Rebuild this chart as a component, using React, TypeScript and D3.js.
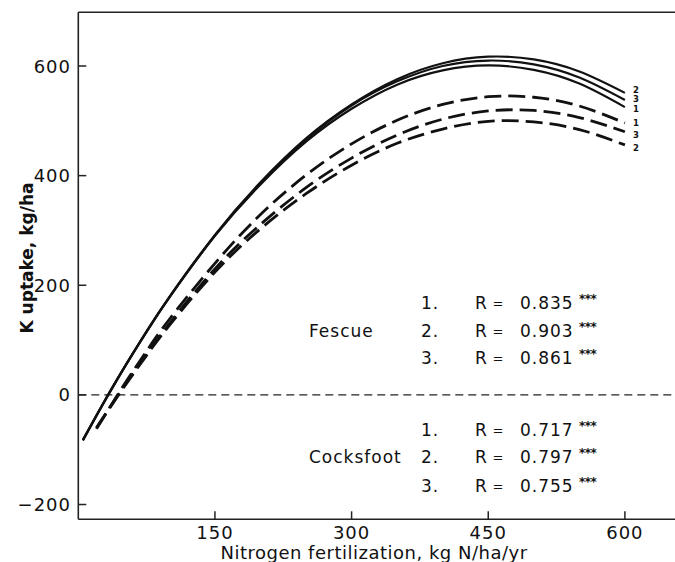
import React from "react";
import * as d3 from "d3";

// Nitrogen rates (kg N/ha/yr) at which each fitted curve is sampled
const fescueN = [5, 25, 50, 75, 100, 150, 200, 250, 300, 350, 400, 450, 500, 550, 600];
const cocksfootN = [20, 50, 75, 100, 150, 200, 250, 300, 350, 400, 450, 500, 550, 600];

// K uptake (kg/ha), fescue (solid curves)
const fescue1 = [-82, -22, 49, 115, 178, 290, 384, 462, 522, 566, 592, 601, 593, 568, 525];
const fescue2 = [-83, -23, 49, 116, 179, 292, 388, 468, 530, 576, 605, 617, 612, 590, 551];
const fescue3 = [-83, -23, 48, 116, 178, 291, 387, 466, 528, 572, 600, 610, 603, 579, 538];

// K uptake (kg/ha), cocksfoot (dashed curves)
const cocksfoot1 = [-62, 18, 80, 138, 240, 329, 401, 458, 501, 530, 544, 543, 527, 496];
const cocksfoot2 = [-60, 14, 72, 127, 224, 303, 367, 419, 459, 485, 499, 498, 484, 456];
const cocksfoot3 = [-60, 15, 74, 130, 230, 311, 378, 432, 474, 503, 518, 519, 506, 480];

// Correlation coefficients
const fescueR = ["0.835", "0.903", "0.861"];
const cocksfootR = ["0.717", "0.797", "0.755"];
const rowNumbers = ["1.", "2.", "3."];

const xTicks = [150, 300, 450, 600];
const yTicks = [600, 400, 200, 0, -200];

const W = 675;
const H = 562;
const FONT = "'DejaVu Sans', sans-serif";

export default function App() {
  const x = d3.scaleLinear().domain([0, 655]).range([78.3, 675]);
  const y = d3.scaleLinear().domain([-227, 698]).range([519.3, 12.3]);

  const line = d3
    .line<[number, number]>()
    .x((d) => x(d[0]))
    .y((d) => y(d[1]))
    .curve(d3.curveNatural);

  // label offsets keep the stacked end numbers apart
  const fescue = [
    { id: "1", values: fescue1, off: 2 },
    { id: "3", values: fescue3, off: -0.5 },
    { id: "2", values: fescue2, off: -3 },
  ];
  const cocksfoot = [
    { id: "1", values: cocksfoot1, off: -0.5 },
    { id: "3", values: cocksfoot3, off: 3 },
    { id: "2", values: cocksfoot2, off: 3 },
  ];

  const left = x.range()[0];
  const bottom = y.range()[0];
  const top = y.range()[1];

  const statRows = (group: string, values: string[], ys: number[]) => (
    <g fontFamily={FONT} fontSize={17} letterSpacing={1} fill="#111">
      <text x={309} y={ys[1]} dominantBaseline="central">
        {group}
      </text>
      {values.map((v, i) => (
        <g key={i}>
          <text x={421} y={ys[i]} dominantBaseline="central">
            {rowNumbers[i]}
          </text>
          <text x={475} y={ys[i]} dominantBaseline="central">
            R
          </text>
          <text
            x={498}
            y={ys[i]}
            fontSize={13}
            letterSpacing={0}
            dominantBaseline="central"
            textAnchor="middle"
          >
            =
          </text>
          <text x={520} y={ys[i]} dominantBaseline="central">
            {v}
          </text>
          <text
            x={579}
            y={ys[i] - 4}
            fontSize={12}
            fontWeight="bold"
            letterSpacing={-0.5}
            dominantBaseline="central"
          >
            ***
          </text>
        </g>
      ))}
    </g>
  );

  return (
    <div style={{ position: "absolute", left: 0, top: 0 }}>
      <svg width={W} height={H} style={{ display: "block", background: "#fff" }}>
        {/* frame: top edge, left and bottom axes */}
        <line x1={left} x2={W} y1={top} y2={top} stroke="#222" strokeWidth={1.6} />
        <line x1={left} x2={left} y1={top} y2={bottom} stroke="#222" strokeWidth={1.6} />
        <line x1={left} x2={W} y1={bottom} y2={bottom} stroke="#222" strokeWidth={1.6} />

        {/* zero reference line */}
        <line
          x1={left}
          x2={W}
          y1={y(0)}
          y2={y(0)}
          stroke="#222"
          strokeWidth={1.3}
          strokeDasharray="8,5"
        />

        {/* y ticks */}
        {yTicks.map((t) => (
          <g key={t}>
            <line x1={left} x2={left + 8} y1={y(t)} y2={y(t)} stroke="#222" strokeWidth={1.5} />
            <text
              x={71}
              y={y(t)}
              textAnchor="end"
              dominantBaseline="central"
              fontFamily={FONT}
              fontSize={18}
              letterSpacing={1}
              fill="#111"
            >
              {t < 0 ? "\u2212" + Math.abs(t) : t}
            </text>
          </g>
        ))}

        {/* x ticks */}
        {xTicks.map((t) => (
          <g key={t}>
            <line x1={x(t)} x2={x(t)} y1={bottom} y2={bottom - 8} stroke="#222" strokeWidth={1.5} />
            <text
              x={x(t)}
              y={532}
              textAnchor="middle"
              dominantBaseline="central"
              fontFamily={FONT}
              fontSize={18}
              letterSpacing={1}
              fill="#111"
            >
              {t}
            </text>
          </g>
        ))}

        {/* axis titles */}
        <text
          x={374}
          y={552}
          textAnchor="middle"
          dominantBaseline="central"
          fontFamily={FONT}
          fontSize={18}
          letterSpacing={0.5}
          fill="#111"
        >
          Nitrogen fertilization, kg N/ha/yr
        </text>
        <text
          transform={`translate(27,258) rotate(-90)`}
          textAnchor="middle"
          dominantBaseline="central"
          fontFamily={FONT}
          fontSize={17}
          fontWeight="bold"
          fill="#111"
        >
          K uptake, kg/ha
        </text>

        {/* fescue curves (solid) */}
        {fescue.map((s) => (
          <path
            key={"f" + s.id}
            d={line(fescueN.map((n, i) => [n, s.values[i]]) as [number, number][]) || ""}
            fill="none"
            stroke="#111"
            strokeWidth={2.2}
          />
        ))}

        {/* cocksfoot curves (dashed) */}
        {cocksfoot.map((s) => (
          <path
            key={"c" + s.id}
            d={line(cocksfootN.map((n, i) => [n, s.values[i]]) as [number, number][]) || ""}
            fill="none"
            stroke="#111"
            strokeWidth={2.8}
            strokeDasharray="17,7"
          />
        ))}

        {/* curve end labels */}
        {[...fescue, ...cocksfoot].map((s, i) => (
          <text
            key={"l" + i}
            x={633}
            y={y(s.values[s.values.length - 1]) + s.off}
            dominantBaseline="central"
            fontFamily={FONT}
            fontSize={8.5}
            fontWeight="bold"
            fill="#111"
          >
            {s.id}
          </text>
        ))}

        {/* regression statistics */}
        {statRows("Fescue", fescueR, [303, 331, 358])}
        {statRows("Cocksfoot", cocksfootR, [430, 457, 486])}
      </svg>
    </div>
  );
}
